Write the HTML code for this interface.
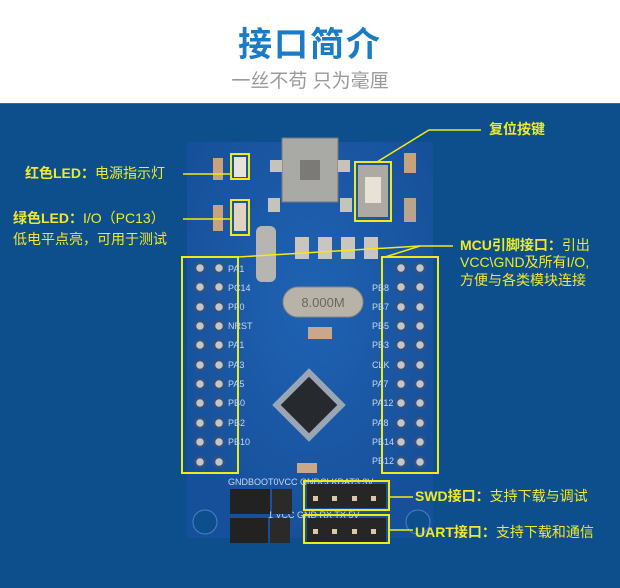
<!DOCTYPE html>
<html><head><meta charset="utf-8"><style>
body{margin:0;width:620px;height:587px;overflow:hidden;background:#fff;font-family:"Liberation Sans","Noto Sans CJK SC",sans-serif;}
.wrap{position:relative;width:620px;height:587px;}
.t{position:absolute;color:#f2ea28;font-size:14px;white-space:nowrap;line-height:17px;}
.b{font-weight:bold;}
</style></head><body><div class="wrap">
<div style="position:absolute;left:0;top:0;width:620px;height:103px;background:#fff"></div>
<div style="position:absolute;left:0;top:22px;width:620px;text-align:center;font-size:34px;font-weight:bold;color:#1a7cc4;letter-spacing:2px;line-height:46px">接口简介</div>
<div style="position:absolute;left:0;top:70px;width:620px;text-align:center;font-size:19px;color:#999;line-height:24px">一丝不苟 只为毫厘</div>
<div style="position:absolute;left:0;top:103px;width:620px;height:484px;background:#0d4f8d;border-top:1px solid #2e6aa3"></div>
<svg width="620" height="587" style="position:absolute;left:0;top:0">
<defs><radialGradient id="bg" cx="50%" cy="40%" r="60%"><stop offset="0" stop-color="#1f63b4"/><stop offset="1" stop-color="#17509a"/></radialGradient></defs>
<rect x="187" y="142" width="246" height="396" rx="4" fill="url(#bg)"/>
<circle cx="205" cy="522" r="12" fill="#0d4f8d" stroke="#4a7fc0"/>
<circle cx="418" cy="522" r="12" fill="#0d4f8d" stroke="#4a7fc0"/>
<rect x="282" y="138" width="56" height="64" fill="#a9a9a6" stroke="#777"/>
<rect x="300" y="160" width="20" height="20" fill="#7c7a76"/>
<rect x="270" y="160" width="12" height="12" fill="#c6c3bb"/><rect x="338" y="160" width="12" height="12" fill="#c6c3bb"/>
<rect x="268" y="198" width="12" height="14" fill="#c6c3bb"/><rect x="340" y="198" width="12" height="14" fill="#c6c3bb"/>
<rect x="234" y="157" width="12" height="20" fill="#e8e2d8"/><rect x="234" y="203" width="12" height="28" fill="#e0d4c0"/>
<rect x="213" y="158" width="10" height="22" fill="#c8a27a"/><rect x="213" y="205" width="10" height="26" fill="#c8a27a"/>
<rect x="358" y="165" width="30" height="52" fill="#aeaaa3"/><rect x="365" y="177" width="16" height="26" fill="#e8e2d6"/>
<rect x="404" y="153" width="12" height="20" fill="#c8a27a"/><rect x="404" y="198" width="12" height="24" fill="#b9a58b"/>
<rect x="295" y="237" width="14" height="22" fill="#c9c6bf"/><rect x="318" y="237" width="14" height="22" fill="#c9c6bf"/><rect x="341" y="237" width="14" height="22" fill="#c9c6bf"/><rect x="364" y="237" width="14" height="22" fill="#c9c6bf"/>
<rect x="256" y="226" width="20" height="56" rx="6" fill="#b7b5b1"/>
<rect x="283" y="287" width="80" height="30" rx="15" fill="#b8b3a8" stroke="#8c877c"/>
<text x="323" y="307" font-size="13" fill="#6d665a" text-anchor="middle" font-family="Liberation Sans">8.000M</text>
<rect x="308" y="327" width="24" height="12" fill="#c9a78a"/>
<g transform="rotate(45 309 405)"><rect x="283" y="379" width="52" height="52" fill="#9aa6b5"/><rect x="289" y="385" width="40" height="40" fill="#26292e"/></g>
<rect x="297" y="463" width="20" height="10" fill="#c9a78a"/>
<g font-size="9" fill="#c9d8ee" font-family="Liberation Sans">
<text x="228" y="485">GNDBOOT0VCC GNDCLKDAT3.3V</text>
<text x="268" y="518">1 VCC GND RX TX 5V</text>
</g>
<rect x="230" y="489" width="40" height="25" fill="#222"/><rect x="230" y="518" width="38" height="25" fill="#222"/>
<rect x="272" y="489" width="20" height="25" fill="#2a2a2a"/><rect x="270" y="518" width="20" height="25" fill="#2a2a2a"/>
<rect x="307" y="484" width="79" height="24" fill="#262626"/><rect x="307" y="518" width="79" height="24" fill="#262626"/>
<g fill="#d9c7a8"><rect x="313" y="496" width="5" height="5"/><rect x="332" y="496" width="5" height="5"/><rect x="352" y="496" width="5" height="5"/><rect x="371" y="496" width="5" height="5"/>
<rect x="313" y="529" width="5" height="5"/><rect x="332" y="529" width="5" height="5"/><rect x="352" y="529" width="5" height="5"/><rect x="371" y="529" width="5" height="5"/></g>
<g fill="none" stroke="#f2ea12" stroke-width="2">
<rect x="231" y="154" width="18" height="25"/><rect x="231" y="200" width="18" height="35"/>
<rect x="355" y="162" width="36" height="59"/>
<rect x="182" y="257" width="56" height="216"/><rect x="382" y="257" width="56" height="216"/>
<rect x="304" y="481" width="85" height="29"/><rect x="304" y="515" width="85" height="28"/>
</g>
<g stroke="#f2ea12" stroke-width="1.5" fill="none">
<polyline points="481,130 429,130 377,162"/>
<line x1="183" y1="174" x2="231" y2="174"/><line x1="183" y1="219" x2="231" y2="219"/>
<polyline points="453,246 420,246 385,257"/><line x1="420" y1="246" x2="238" y2="257"/>
<line x1="389" y1="497" x2="413" y2="497"/><line x1="389" y1="530" x2="413" y2="530"/>
</g>
</svg>
<svg width="620" height="587" style="position:absolute;left:0;top:0">
<g fill="#c4c6c8" stroke="#34527f" stroke-width="2.5">
<circle cx="200" cy="268" r="5"/><circle cx="219" cy="268" r="5"/>
<circle cx="200" cy="287" r="5"/><circle cx="219" cy="287" r="5"/>
<circle cx="200" cy="307" r="5"/><circle cx="219" cy="307" r="5"/>
<circle cx="200" cy="326" r="5"/><circle cx="219" cy="326" r="5"/>
<circle cx="200" cy="345" r="5"/><circle cx="219" cy="345" r="5"/>
<circle cx="200" cy="365" r="5"/><circle cx="219" cy="365" r="5"/>
<circle cx="200" cy="384" r="5"/><circle cx="219" cy="384" r="5"/>
<circle cx="200" cy="403" r="5"/><circle cx="219" cy="403" r="5"/>
<circle cx="200" cy="423" r="5"/><circle cx="219" cy="423" r="5"/>
<circle cx="200" cy="442" r="5"/><circle cx="219" cy="442" r="5"/>
<circle cx="200" cy="462" r="5"/><circle cx="219" cy="462" r="5"/>
<circle cx="401" cy="268" r="5"/><circle cx="420" cy="268" r="5"/>
<circle cx="401" cy="287" r="5"/><circle cx="420" cy="287" r="5"/>
<circle cx="401" cy="307" r="5"/><circle cx="420" cy="307" r="5"/>
<circle cx="401" cy="326" r="5"/><circle cx="420" cy="326" r="5"/>
<circle cx="401" cy="345" r="5"/><circle cx="420" cy="345" r="5"/>
<circle cx="401" cy="365" r="5"/><circle cx="420" cy="365" r="5"/>
<circle cx="401" cy="384" r="5"/><circle cx="420" cy="384" r="5"/>
<circle cx="401" cy="403" r="5"/><circle cx="420" cy="403" r="5"/>
<circle cx="401" cy="423" r="5"/><circle cx="420" cy="423" r="5"/>
<circle cx="401" cy="442" r="5"/><circle cx="420" cy="442" r="5"/>
<circle cx="401" cy="462" r="5"/><circle cx="420" cy="462" r="5"/>
</g>
<g font-size="9" fill="#c9d8ee" font-family="Liberation Sans">
<text x="228" y="272">PA1</text><text x="228" y="291">PC14</text><text x="228" y="310">PF0</text><text x="228" y="329">NRST</text><text x="228" y="348">PA1</text><text x="228" y="368">PA3</text><text x="228" y="387">PA5</text><text x="228" y="406">PB0</text><text x="228" y="426">PB2</text><text x="228" y="445">PB10</text>
<text x="372" y="291">PB8</text><text x="372" y="310">PB7</text><text x="372" y="329">PB5</text><text x="372" y="348">PB3</text><text x="372" y="368">CLK</text><text x="372" y="387">PA7</text><text x="372" y="406">PA12</text><text x="372" y="426">PA8</text><text x="372" y="445">PB14</text><text x="372" y="464">PB12</text>
</g>
</svg>
<div class="t b" style="left:489px;top:121px">复位按键</div>
<div class="t" style="left:25px;top:165px"><b>红色LED：</b>电源指示灯</div>
<div class="t" style="left:13px;top:210px"><b>绿色LED：</b>I/O（PC13）</div>
<div class="t" style="left:13px;top:231px">低电平点亮，可用于测试</div>
<div class="t" style="left:460px;top:237px"><b>MCU引脚接口：</b>引出</div>
<div class="t" style="left:460px;top:254px">VCC\GND及所有I/O,</div>
<div class="t" style="left:460px;top:272px">方便与各类模块连接</div>
<div class="t" style="left:415px;top:488px"><b>SWD接口：</b>支持下载与调试</div>
<div class="t" style="left:415px;top:524px"><b>UART接口：</b>支持下载和通信</div>
</div></body></html>
